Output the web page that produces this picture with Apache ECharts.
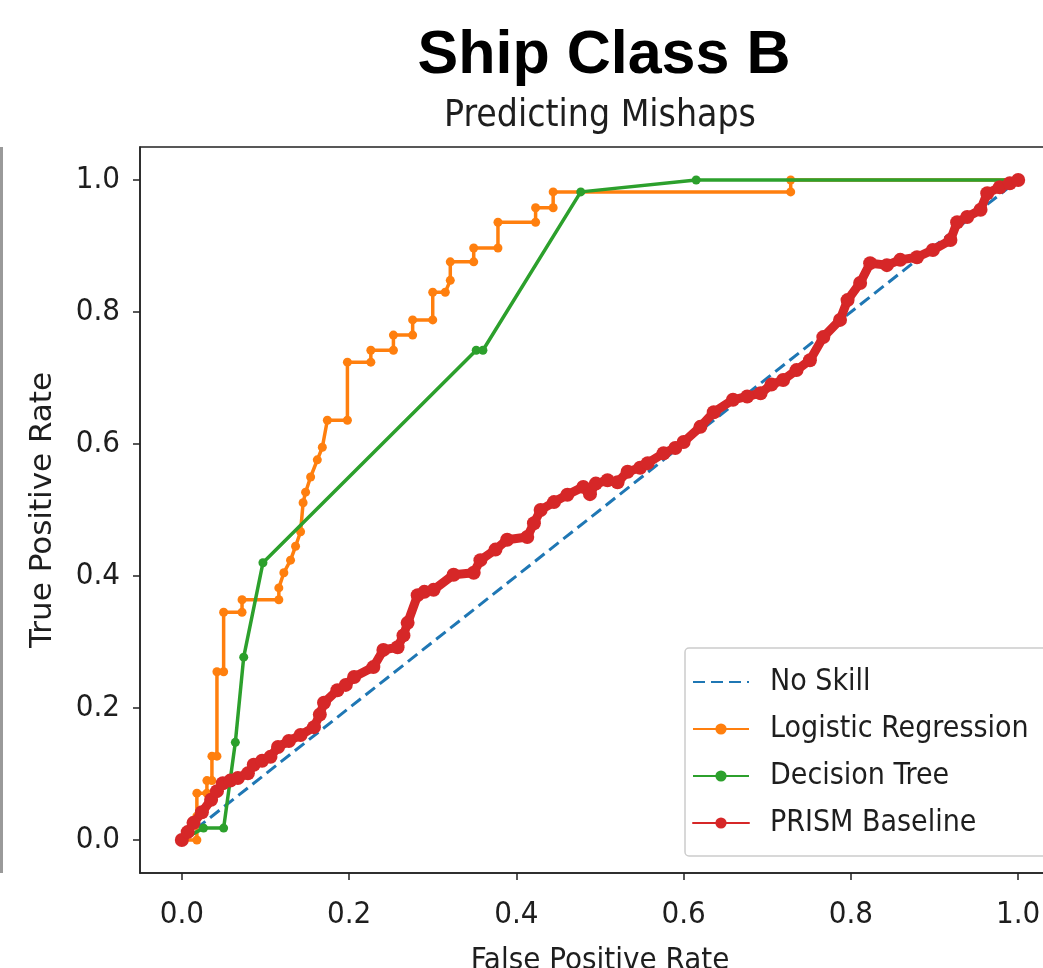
<!DOCTYPE html>
<html><head><meta charset="utf-8">
<script src="https://cdn.jsdelivr.net/npm/echarts@6/dist/echarts.min.js"></script>
<style>html,body{margin:0;padding:0;background:#fff}#chart{width:1043px;height:968px}</style>
</head><body><div id="chart"></div>
<script>
// ---- data ----
const tickValues = [0, 0.2, 0.4, 0.6, 0.8, 1.0];
const seriesNames = ['No Skill', 'Logistic Regression', 'Decision Tree', 'PRISM Baseline'];

const noSkillFpr = [0, 1];
const noSkillTpr = [0, 1];

const lrFpr = [0, 0.018, 0.018, 0.018, 0.03, 0.03, 0.036, 0.036, 0.042, 0.042, 0.05, 0.05, 0.072, 0.072, 0.116, 0.116, 0.122, 0.13, 0.136, 0.142, 0.145, 0.148, 0.154, 0.162, 0.168, 0.174, 0.198, 0.198, 0.226, 0.226, 0.253, 0.253, 0.276, 0.276, 0.30, 0.30, 0.315, 0.321, 0.321, 0.349, 0.349, 0.378, 0.378, 0.423, 0.423, 0.444, 0.444, 0.728, 0.728, 1.0];
const lrTpr = [0, 0, 0.036, 0.071, 0.071, 0.09, 0.09, 0.127, 0.127, 0.255, 0.255, 0.345, 0.345, 0.364, 0.364, 0.382, 0.405, 0.424, 0.445, 0.467, 0.511, 0.527, 0.55, 0.576, 0.595, 0.636, 0.636, 0.724, 0.724, 0.742, 0.742, 0.765, 0.765, 0.788, 0.788, 0.83, 0.83, 0.848, 0.876, 0.876, 0.897, 0.897, 0.936, 0.936, 0.958, 0.958, 0.982, 0.982, 1.0, 1.0];

const dtFpr = [0, 0.026, 0.05, 0.064, 0.074, 0.097, 0.352, 0.36, 0.477, 0.615, 1.0];
const dtTpr = [0, 0.018, 0.018, 0.148, 0.277, 0.42, 0.742, 0.742, 0.982, 1.0, 1.0];

const prismFpr = [0, 0.007, 0.014, 0.024, 0.035, 0.042, 0.049, 0.058, 0.067, 0.079, 0.086, 0.096, 0.106, 0.115, 0.128, 0.142, 0.158, 0.165, 0.170, 0.186, 0.196, 0.206, 0.229, 0.241, 0.258, 0.265, 0.270, 0.282, 0.290, 0.301, 0.325, 0.349, 0.357, 0.375, 0.389, 0.413, 0.421, 0.429, 0.445, 0.461, 0.480, 0.488, 0.495, 0.509, 0.521, 0.533, 0.548, 0.557, 0.576, 0.590, 0.600, 0.620, 0.636, 0.659, 0.676, 0.692, 0.705, 0.719, 0.735, 0.751, 0.767, 0.787, 0.796, 0.811, 0.823, 0.843, 0.859, 0.879, 0.898, 0.919, 0.927, 0.939, 0.955, 0.963, 0.978, 0.990, 1.0];
const prismTpr = [0, 0.012, 0.026, 0.042, 0.061, 0.074, 0.086, 0.090, 0.094, 0.101, 0.114, 0.120, 0.126, 0.141, 0.150, 0.159, 0.171, 0.190, 0.208, 0.227, 0.235, 0.247, 0.262, 0.288, 0.292, 0.310, 0.329, 0.371, 0.376, 0.379, 0.402, 0.405, 0.424, 0.440, 0.455, 0.459, 0.480, 0.500, 0.512, 0.523, 0.535, 0.524, 0.540, 0.545, 0.542, 0.558, 0.564, 0.571, 0.586, 0.594, 0.603, 0.626, 0.648, 0.667, 0.672, 0.677, 0.690, 0.697, 0.712, 0.727, 0.762, 0.788, 0.818, 0.844, 0.874, 0.871, 0.879, 0.883, 0.894, 0.909, 0.936, 0.944, 0.955, 0.980, 0.989, 0.995, 1.0];

const colors = ['#1f77b4', '#ff7f0e', '#2ca02c', '#d62728'];

// ---- build ----
const zip = (a, b) => a.map((v, i) => [v, b[i]]);
const FONT = '"DejaVu Sans Condensed","Liberation Sans Narrow","DejaVu Sans",sans-serif';
const textCol = '#1e1e1e';

const chart = echarts.init(document.getElementById('chart'), null, {renderer: 'canvas'});
const axisCommon = {
  type: 'value', min: -0.05, max: 1.05,
  splitLine: {show: false},
  axisLine: {show: true, onZero: false, lineStyle: {color: '#222', width: 1.5}},
  axisTick: {show: true, customValues: tickValues, length: 7, lineStyle: {color: '#222', width: 1.5}},
  nameLocation: 'middle'
};
const option = {
  animation: false,
  backgroundColor: '#fff',
  title: [
    {text: 'Ship Class B', left: 599, top: 21, textAlign: 'center',
     textStyle: {fontFamily: '"Liberation Sans", Arial, sans-serif', fontWeight: 'bold', fontSize: 61, color: '#000'}},
    {text: 'Predicting Mishaps', left: 595, top: 93, textAlign: 'center',
     textStyle: {fontFamily: FONT, fontWeight: 'normal', fontSize: 37, color: textCol}}
  ],
  graphic: [{type: 'rect', left: 0, top: 147, shape: {width: 3, height: 726}, style: {fill: '#9a9a9a'}}],
  grid: {left: 140, top: 147, width: 920, height: 726, outerBoundsMode: 'none', containLabel: false,
         show: true, borderColor: '#222', borderWidth: 1.5, backgroundColor: 'transparent'},
  xAxis: Object.assign({}, axisCommon, {
    name: 'False Positive Rate', nameGap: 72,
    nameTextStyle: {fontFamily: FONT, fontSize: 31, color: textCol},
    axisLabel: {customValues: tickValues, formatter: v => v.toFixed(1), margin: 26, fontFamily: FONT, fontSize: 31, color: textCol}
  }),
  yAxis: Object.assign({}, axisCommon, {
    name: 'True Positive Rate', nameGap: 82, nameRotate: 90,
    nameTextStyle: {fontFamily: '"DejaVu Sans", sans-serif', fontSize: 31, color: textCol},
    axisLabel: {customValues: tickValues, formatter: v => v.toFixed(1), margin: 20, fontFamily: FONT, fontSize: 31, color: textCol}
  }),
  legend: {
    orient: 'vertical', left: 685, top: 648,
    padding: [17, 30, 16, 7], itemGap: 13, itemWidth: 56, itemHeight: 14,
    borderColor: '#cccccc', borderWidth: 1.5, borderRadius: 4, backgroundColor: 'rgba(255,255,255,0.85)',
    textStyle: {fontFamily: FONT, fontSize: 30, color: textCol, lineHeight: 34, padding: [0, 0, 0, 16]},
    data: [{name: seriesNames[0], itemStyle: {opacity: 0}}, seriesNames[1], seriesNames[2], seriesNames[3]]
  },
  series: [
    {name: seriesNames[0], type: 'line', z: 1, data: zip(noSkillFpr, noSkillTpr), symbol: 'none', silent: true,
     lineStyle: {color: colors[0], width: 3, type: [12, 6]}, itemStyle: {color: colors[0]}},
    {name: seriesNames[1], type: 'line', z: 2, data: zip(lrFpr, lrTpr), symbol: 'circle', symbolSize: 9, silent: true,
     lineStyle: {color: colors[1], width: 3.5}, itemStyle: {color: colors[1]}},
    {name: seriesNames[2], type: 'line', z: 3, data: zip(dtFpr, dtTpr), symbol: 'circle', symbolSize: 9, silent: true,
     lineStyle: {color: colors[2], width: 3.5}, itemStyle: {color: colors[2]}},
    {name: seriesNames[3], type: 'line', z: 4, data: zip(prismFpr, prismTpr), symbol: 'circle', symbolSize: 14, silent: true,
     lineStyle: {color: colors[3], width: 9, join: 'round', cap: 'round'}, itemStyle: {color: colors[3]}}
  ]
};
chart.setOption(option);
</script>
</body></html>
